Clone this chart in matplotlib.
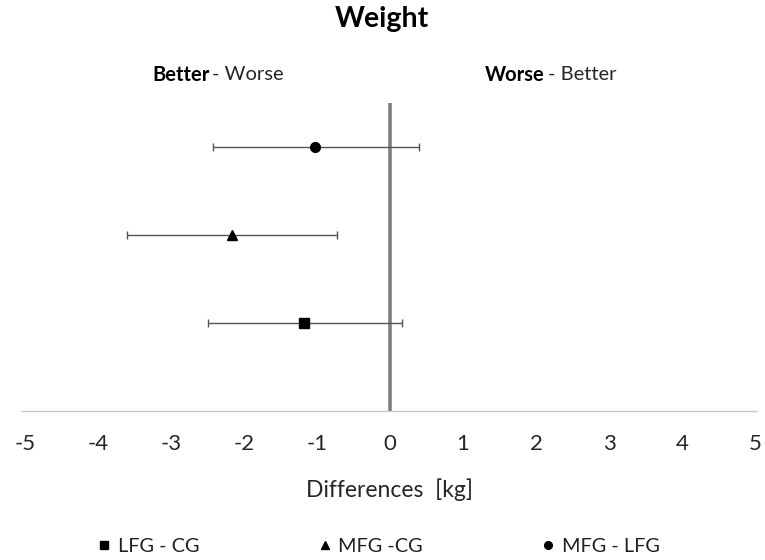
import matplotlib
matplotlib.use("Agg")
import matplotlib.pyplot as plt
from matplotlib.lines import Line2D

plt.rcParams['font.family'] = ['Lato', 'DejaVu Sans']

# Mean differences with 95% confidence limits (kg)
comparisons = ["LFG - CG", "MFG -CG", "MFG - LFG"]
means = [-1.18, -2.17, -1.03]
ci_low = [-2.50, -3.60, -2.43]
ci_high = [0.17, -0.73, 0.40]
markers = ["s", "^", "o"]
rows = [1, 2, 3]
x_ticks = [-5, -4, -3, -2, -1, 0, 1, 2, 3, 4, 5]

W, H = 765, 560
fig = plt.figure(figsize=(W / 100, H / 100), dpi=100)
ax = fig.add_axes([22 / W, 149.3 / H, 735 / W, 308 / H])

ax.axvline(0, color="#7f7f7f", lw=2.6, zorder=1)

for m, lo, hi, mk, r in zip(means, ci_low, ci_high, markers, rows):
    ax.errorbar([m], [r], xerr=[[m - lo], [hi - m]], fmt=mk, color="black",
                ecolor="#555555", elinewidth=1.0, capsize=2.6, capthick=1.0,
                markersize=7 if mk != "^" else 7.5, zorder=3)

ax.set_xlim(-5.041, 5.027)
ax.set_ylim(0, 3.5)
ax.set_xticks(x_ticks)
ax.set_xticklabels([str(t) for t in x_ticks], fontsize=16, color="#262626")
ax.tick_params(axis="x", length=0, pad=17)
ax.set_yticks([])
for s in ["top", "right", "left"]:
    ax.spines[s].set_visible(False)
ax.spines["bottom"].set_color("#c8c8c8")
ax.spines["bottom"].set_linewidth(1.0)

ax.set_xlabel("Differences  [kg]", fontsize=16.5, color="#262626", labelpad=17)

fig.text(382 / W, 1 - 19 / H, "Weight", ha="center", va="center",
         fontsize=20.5, fontweight="bold", color="black")

# Direction annotations: bold word followed by a regular continuation
renderer = fig.canvas.get_renderer()


def mixed_label(x_px, y_px, bold, rest, size=14.5):
    t = fig.text(x_px / W, 1 - y_px / H, bold, ha="left", va="center",
                 fontsize=size, fontweight="bold", color="black")
    bb = t.get_window_extent(renderer=renderer)
    fig.text((bb.x1 + 3) / W, 1 - y_px / H, rest, ha="left", va="center",
             fontsize=size, color="#262626")


mixed_label(152, 75, "Better", "- Worse")
mixed_label(485, 75, "Worse", "- Better")

handles = [Line2D([], [], marker=mk, color="black", linestyle="none",
                  markersize=5.5 if mk != "^" else 6) for mk in markers]
fig.legend(handles, comparisons, loc="center", bbox_to_anchor=(379 / W, 1 - 546 / H),
           ncol=3, frameon=False, fontsize=14.3, handlelength=0.6,
           handletextpad=0.4, columnspacing=6.0, labelcolor="#1f1f1f")

fig.savefig("out.png", dpi=100)
